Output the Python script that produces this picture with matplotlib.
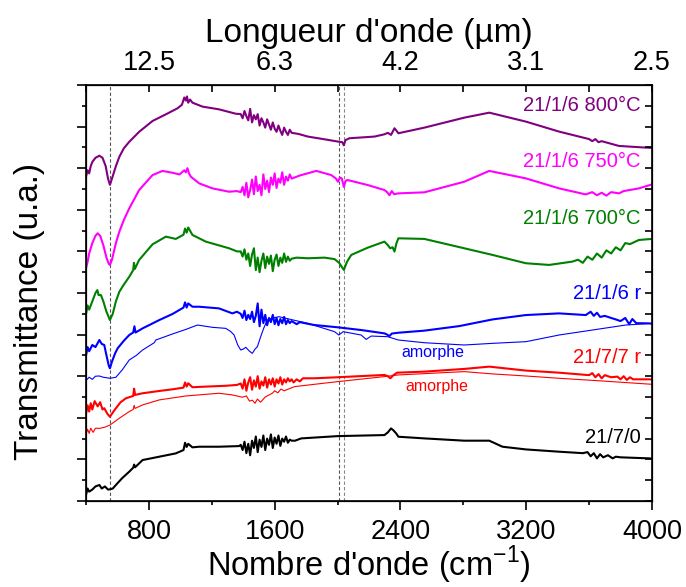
import matplotlib.pyplot as plt
from matplotlib.ticker import MultipleLocator

plt.rcParams['font.family'] = ['Liberation Sans', 'DejaVu Sans']
plt.rcParams['mathtext.fontset'] = 'custom'
plt.rcParams['mathtext.rm'] = 'Liberation Sans'

# wavenumbers (cm-1) and transmittance (u.a., offset)
w_800 = [400, 410, 420, 430, 440, 460, 485, 505, 525, 540, 552, 565, 590, 612, 640, 675, 738, 823, 908, 982,
         1010, 1025, 1035, 1042, 1050, 1062, 1077, 1141, 1246, 1352,
         1750, 1811, 1917, 2002, 2030, 2040, 2050, 2076, 2235, 2298, 2320, 2340, 2362, 2375, 2387,
         2552, 2806, 2965, 3198, 3409, 3600, 3620, 3640, 3660, 3680, 3790, 3960, 4000]
t_800 = [15.6, 15.9, 15.75, 16.1, 16.3, 16.5, 16.6, 16.5, 16.1, 15.5, 15.2, 15.5, 16.1, 16.55, 16.95, 17.27, 17.75, 18.27, 18.59, 18.88,
         19.05, 19.4, 19.25, 19.45, 19.15, 19.3, 19.15, 18.96, 18.83, 18.62,
         17.65, 17.52, 17.39, 17.28, 17.25, 17.1, 17.35, 17.44, 17.52, 17.63, 17.7, 17.6, 17.92, 17.8, 17.68,
         17.95, 18.43, 18.67, 18.24, 17.76, 17.4, 17.3, 17.4, 17.25, 17.3, 17.07, 16.99, 16.98]

w_750 = [400, 410, 420, 440, 460, 474, 490, 510, 530, 545, 552, 565, 590, 612, 640, 675, 738, 823, 887, 950,
         995, 1025, 1035, 1045, 1055, 1067, 1120, 1204, 1310, 1360,
         1760, 1865, 1960, 1990, 2002, 2015, 2027, 2040, 2052, 2065, 2192, 2298, 2315, 2330, 2345, 2360, 2387,
         2552, 2806, 2965, 3198, 3409, 3579, 3620, 3650, 3680, 3710, 3740, 3790, 3820, 3917, 4000]
t_750 = [11.2, 11.5, 11.9, 12.4, 12.75, 12.87, 12.75, 12.3, 11.7, 11.4, 11.35, 11.6, 12.4, 12.95, 13.5, 14.07, 14.95, 15.67, 15.87, 15.78,
         15.7, 15.9, 15.8, 16.0, 15.75, 15.59, 15.27, 15.03, 14.87, 14.9,
         15.65, 15.87, 15.67, 15.5, 15.35, 15.55, 15.51, 15.1, 15.4, 15.43, 15.19, 14.95, 14.85, 14.7, 14.9, 14.75, 14.79,
         14.84, 15.35, 15.87, 15.51, 15.03, 14.74, 14.85, 14.7, 14.82, 14.68, 14.85, 14.79, 14.9, 15.03, 15.22]

w_700 = [400, 410, 420, 440, 460, 472, 480, 495, 510, 530, 552, 570, 590, 612, 640, 675, 700, 705, 710, 738,
         823, 908, 971, 1020, 1030, 1040, 1050, 1077, 1162, 1310, 1360,
         1740, 1811, 1917, 1981, 2010, 2040, 2060, 2087, 2192, 2298, 2320, 2335, 2350, 2362, 2375, 2387,
         2552, 2806, 2986, 3198, 3346, 3494, 3530, 3560, 3590, 3621, 3650, 3680, 3710, 3740, 3770, 3800, 3830, 3860, 3917, 4000]
t_700 = [9.0, 9.4, 9.2, 9.6, 10.0, 10.14, 9.9, 9.9, 9.6, 9.1, 8.7, 9.0, 9.6, 10.06, 10.4, 10.78, 11.1, 11.45, 11.15, 11.59,
         12.34, 12.71, 12.6, 12.8, 13.1, 12.9, 13.15, 12.79, 12.47, 12.15, 12.0,
         11.7, 11.67, 11.7, 11.63, 11.45, 11.11, 11.5, 11.83, 12.18, 12.47, 12.3, 12.15, 12.2, 11.99, 12.4, 12.63,
         12.6, 12.15, 11.83, 11.43, 11.35, 11.51, 11.6, 11.45, 11.75, 11.6, 11.9, 11.7, 12.05, 11.9, 12.2, 12.05, 12.4, 12.35, 12.55, 12.6]

w_r = [400, 410, 420, 440, 460, 485, 500, 516, 530, 545, 552, 565, 585, 601, 640, 675, 700, 708, 715, 760,
       866, 950, 1020, 1030, 1040, 1050, 1077, 1120, 1246, 1331, 1360,
       1740, 1760, 1811, 1854, 2002, 2150, 2298, 2315, 2330, 2345, 2387, 2552, 2775, 2986, 3198, 3409, 3579,
       3610, 3630, 3650, 3670, 3700, 3740, 3770, 3800, 3830, 3855, 3875, 3900, 3981, 4000]
t_r = [7.0, 7.4, 7.2, 7.5, 7.4, 7.74, 7.55, 7.5, 7.0, 6.5, 6.38, 6.7, 7.1, 7.34, 7.7, 7.98, 8.1, 8.4, 8.1, 8.3,
       8.7, 8.99, 9.3, 9.55, 9.3, 9.5, 9.34, 9.34, 9.26, 9.02, 9.1,
       8.5, 8.6, 8.52, 8.46, 8.35, 8.22, 8.06, 8.0, 7.93, 8.05, 8.09, 8.19, 8.41, 8.73, 8.94, 9.02, 8.94,
       9.1, 8.9, 9.05, 8.85, 8.9, 8.8, 8.73, 8.65, 8.8, 8.5, 8.75, 8.55, 8.54, 8.52]

w_r_am = [400, 420, 440, 460, 485, 510, 552, 590, 630, 675, 720, 760, 834, 845, 855, 950, 1035, 1109, 1204, 1289,
          1320, 1342, 1365, 1384, 1400, 1416, 1440, 1458, 1475, 1490, 1511, 1530, 1553, 1590, 1627,
          1811, 1981, 2008, 2036, 2150, 2182, 2214, 2319, 2387, 2552, 2806, 2986, 3198, 3409, 3621, 3833, 4000]
t_r_am = [5.8, 5.95, 5.85, 6.0, 6.01, 5.95, 5.9, 5.95, 6.3, 6.78, 7.0, 7.26, 7.61, 7.75, 7.77, 8.03, 8.25, 8.46, 8.35, 8.3,
          8.15, 7.98, 7.5, 7.26, 7.3, 7.39, 7.2, 7.1, 7.3, 7.42, 7.9, 8.3, 8.7, 8.8, 8.86,
          8.54, 8.14, 7.98, 8.14, 7.98, 7.77, 7.93, 7.9, 7.74, 7.61, 7.5, 7.58, 7.66, 7.98, 8.22, 8.46, 8.54]

w_7r = [400, 410, 420, 430, 440, 455, 474, 490, 505, 516, 535, 552, 570, 590, 620, 654, 700, 706, 712, 760,
        866, 950, 1020, 1030, 1040, 1050, 1077, 1162, 1289, 1360,
        1720, 1740, 1760, 1780, 1854, 2002, 2298, 2320, 2336, 2355, 2379, 2552, 2806, 2965, 3198, 3409, 3600,
        3620, 3640, 3660, 3680, 3700, 3740, 3780, 3800, 3820, 3840, 3860, 3880, 3981, 4000]
t_7r = [4.2, 4.6, 4.3, 4.7, 4.4, 4.8, 4.55, 4.75, 4.4, 4.46, 4.2, 4.05, 4.25, 4.46, 4.75, 4.94, 5.05, 5.4, 5.1, 5.18,
        5.29, 5.37, 5.45, 5.7, 5.5, 5.66, 5.47, 5.5, 5.54, 5.58,
        5.7, 5.85, 5.75, 5.9, 5.9, 5.95, 6.06, 6.0, 5.9, 6.05, 6.17, 6.22, 6.35, 6.46, 6.27, 6.17, 6.05,
        6.15, 5.95, 6.1, 5.9, 6.05, 5.95, 5.98, 5.85, 6.0, 5.82, 5.95, 5.85, 5.85, 5.84]

w_7r_am = [400, 410, 420, 430, 445, 460, 485, 520, 552, 612, 675, 700, 706, 712, 760, 866, 1035, 1246, 1331, 1395,
           1420, 1440, 1458, 1475, 1490, 1510, 1540, 1585, 1600, 1620, 1640, 1660, 1727,
           2002, 2298, 2387, 2806, 2986, 3198, 3409, 3664, 3981, 4000]
t_7r_am = [3.2, 3.45, 3.25, 3.5, 3.3, 3.5, 3.49, 3.55, 3.65, 3.98, 4.3, 4.4, 4.6, 4.45, 4.62, 4.86, 5.05, 5.18, 5.1, 4.99,
           5.05, 4.8, 4.85, 4.7, 4.9, 4.75, 5.0, 5.18, 5.3, 5.2, 5.38, 5.3, 5.5,
           5.74, 5.98, 6.06, 6.22, 6.11, 6.01, 5.9, 5.78, 5.62, 5.61]

w_0 = [400, 410, 420, 440, 460, 485, 500, 520, 540, 552, 570, 590, 630, 675, 700, 706, 712, 760, 866, 971,
       1020, 1030, 1040, 1050, 1077, 1120, 1246, 1374,
       1730, 1769, 2002, 2298, 2320, 2340, 2355, 2373, 2387, 2552, 2806, 2965, 3049, 3198, 3409, 3560,
       3590, 3610, 3630, 3650, 3670, 3690, 3720, 3750, 3770, 3800, 3981, 4000]
t_0 = [0.3, 0.6, 0.45, 0.55, 0.7, 0.77, 0.6, 0.7, 0.55, 0.56, 0.6, 0.77, 1.1, 1.41, 1.6, 1.75, 1.62, 1.97, 2.13, 2.29,
       2.45, 2.8, 2.6, 2.75, 2.58, 2.61, 2.61, 2.64,
       2.9, 3.01, 3.12, 3.17, 3.3, 3.49, 3.4, 3.25, 3.09, 3.01, 2.9, 2.9, 2.61, 2.48, 2.37, 2.3,
       2.35, 2.15, 2.3, 2.05, 2.25, 2.1, 2.2, 2.05, 2.13, 2.1, 2.05, 2.04]

# noisy water-vapour band (1380-1710 cm-1), read point by point
w_h2o = [1384, 1396, 1408, 1420, 1432, 1444, 1456, 1468, 1480, 1492, 1504, 1516, 1528, 1540,
         1552, 1564, 1576, 1588, 1600, 1612, 1624, 1636, 1648, 1660, 1672, 1684, 1696, 1708]
n_800 = [18.6, 18.4, 18.75, 18.5, 18.3, 18.85, 18.2, 18.55, 18.35, 18.6, 18.05, 18.4, 18.2, 17.95,
         18.35, 18.1, 17.85, 18.2, 17.9, 17.75, 18.05, 17.8, 17.6, 17.95, 17.75, 17.6, 17.85, 17.7]
n_750 = [14.85, 15.1, 14.7, 15.3, 14.6, 14.95, 15.45, 14.75, 15.6, 14.9, 15.2, 14.7, 15.7, 15.0,
         15.4, 14.85, 15.55, 15.2, 15.75, 15.05, 15.5, 15.3, 15.8, 15.2, 15.6, 15.4, 15.7, 15.5]
n_700 = [12.0, 11.75, 12.1, 11.6, 11.9, 11.3, 11.85, 12.15, 11.1, 11.7, 11.0, 11.55, 11.9, 11.2,
         11.75, 11.4, 11.8, 11.05, 11.6, 11.85, 11.3, 11.7, 11.45, 11.9, 11.5, 11.75, 11.55, 11.65]
n_r = [9.0, 8.8, 9.15, 8.7, 8.95, 8.75, 9.1, 8.6, 8.9, 9.5, 8.4, 9.2, 8.55, 8.95,
       8.45, 8.8, 8.6, 8.95, 8.5, 8.8, 8.45, 8.75, 8.55, 8.85, 8.5, 8.7, 8.55, 8.65]
n_7r = [5.65, 5.4, 5.85, 5.3, 5.7, 5.95, 5.35, 5.8, 5.5, 6.0, 5.4, 5.75, 5.55, 5.95,
        5.45, 5.85, 5.6, 5.9, 5.5, 5.85, 5.65, 5.95, 5.6, 5.85, 5.7, 5.9, 5.75, 5.85]
n_0 = [2.7, 2.45, 2.85, 2.3, 2.75, 2.2, 2.9, 2.55, 3.1, 2.35, 2.95, 2.6, 3.15, 2.45,
       3.0, 2.7, 3.2, 2.55, 3.05, 2.75, 3.15, 2.65, 3.0, 2.85, 3.1, 2.8, 2.95, 2.9]

labels = ['21/1/6 800°C', '21/1/6 750°C', '21/1/6 700°C', '21/1/6 r', '21/7/7 r', '21/7/0']
label_y = [19.0, 16.3, 13.6, 10.0, 6.9, 3.05]
colors = ['#800080', '#FF00FF', '#008000', '#0000FF', '#FF0000', '#000000']

dashed_w = [552, 2008, 2040]
top_labels = ['12.5', '6.3', '4.2', '3.1', '2.5']


def merge(w, t, n):
    pts = sorted(zip(w + w_h2o, t + n))
    return [p[0] for p in pts], [p[1] for p in pts]


def main():
    fig = plt.figure(figsize=(6.86, 5.87), dpi=100)
    ax = fig.add_axes([0.1254, 0.1465, 0.825, 0.7087])

    for x in dashed_w:
        ax.axvline(x, color='#555555' if x != 2040 else '#888888', ls='--', lw=0.8, dashes=(3, 2))

    series = [(w_800, t_800, n_800), (w_750, t_750, n_750), (w_700, t_700, n_700),
              (w_r, t_r, n_r), (w_7r, t_7r, n_7r), (w_0, t_0, n_0)]
    for (w, t, n), c in zip(series, colors):
        ww, tt = merge(w, t, n)
        ax.plot(ww, tt, color=c, lw=1.5)
    ax.plot(w_r_am, t_r_am, color=colors[3], lw=0.8)
    ax.plot(w_7r_am, t_7r_am, color=colors[4], lw=0.8)

    for lab, y, c in zip(labels, label_y, colors):
        ax.text(3930, y, lab, color=c, fontsize=14.5, ha='right', va='center')
    ax.text(2604, 7.16, 'amorphe', color=colors[3], fontsize=11.5, ha='center', va='center')
    ax.text(2632, 5.5, 'amorphe', color=colors[4], fontsize=11.5, ha='center', va='center')

    ax.set_xlim(400, 4000)
    ax.set_ylim(0, 20)
    ax.xaxis.set_major_locator(MultipleLocator(800))
    ax.xaxis.set_minor_locator(MultipleLocator(400))
    ax.yaxis.set_major_locator(MultipleLocator(2))
    ax.yaxis.set_minor_locator(MultipleLocator(1))
    ax.tick_params(which='major', direction='out', length=6.5, width=1.2, labelsize=19.5, pad=6.5)
    ax.tick_params(which='minor', direction='out', length=3.2, width=1.2)
    ax.tick_params(axis='y', labelleft=False)
    for s in ax.spines.values():
        s.set_linewidth(1.2)

    ax.set_xlabel("Nombre d'onde (cm$^{\\mathregular{-1}}$)", fontsize=23.5, labelpad=-1)
    ax.set_ylabel('Transmittance (u.a.)', fontsize=24)
    ax.yaxis.set_label_coords(-0.073, 0.455)

    # top axis: wavelength in micrometres
    top = ax.twiny()
    top.set_xlim(ax.get_xlim())
    top.set_xticks([800, 1600, 2400, 3200, 4000])
    top.set_xticklabels(top_labels)
    top.xaxis.set_minor_locator(MultipleLocator(400))
    top.tick_params(which='major', direction='in', length=5, width=1.2, labelsize=19.5, pad=6.5)
    top.tick_params(which='minor', direction='in', length=5, width=1.2)
    top.set_xlabel("Longueur d'onde (µm)", fontsize=24, labelpad=6)

    right = ax.twinx()
    right.set_ylim(ax.get_ylim())
    right.yaxis.set_major_locator(MultipleLocator(2))
    right.yaxis.set_minor_locator(MultipleLocator(1))
    right.tick_params(which='both', direction='in', length=5, width=1.2, labelright=False)

    fig.savefig('out.png', dpi=100)


if __name__ == '__main__':
    main()
